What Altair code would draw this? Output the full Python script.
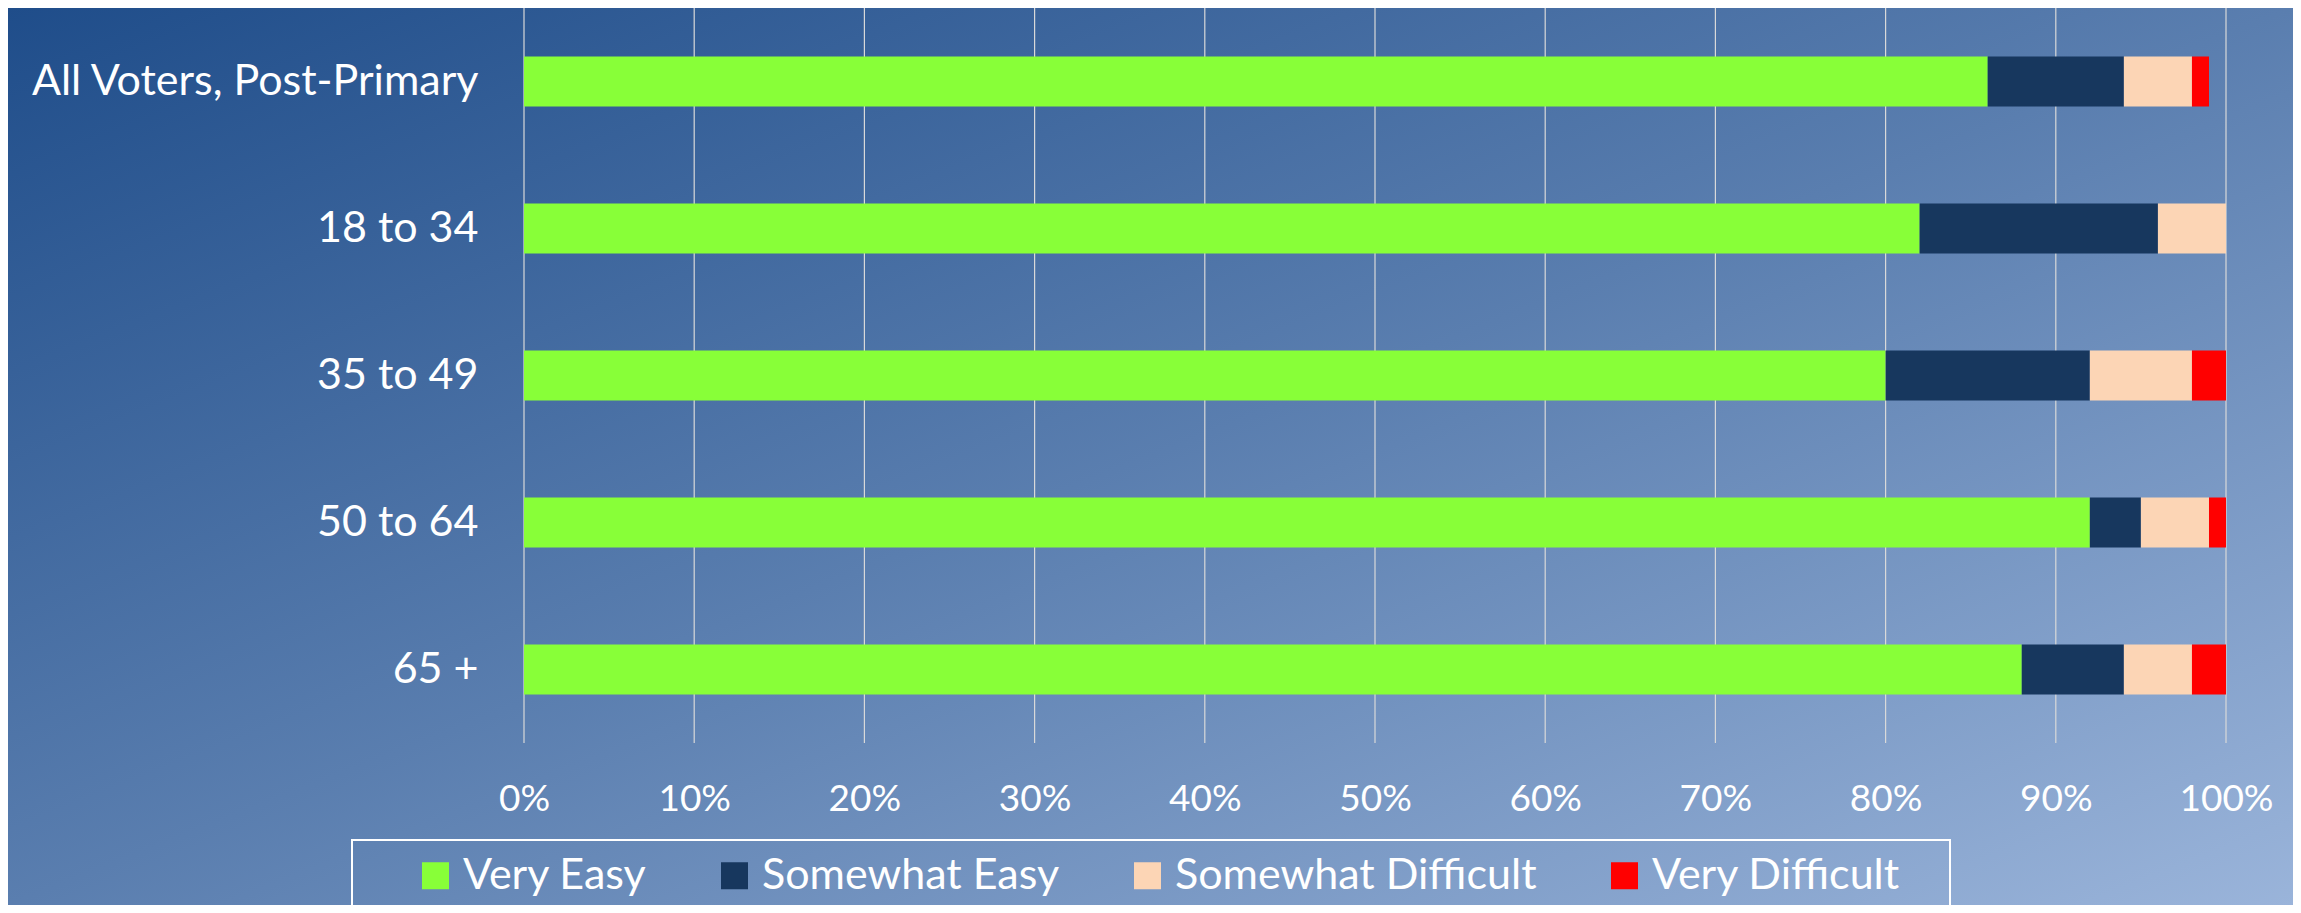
import altair as alt
import pandas as pd

groups = ["All Voters, Post-Primary", "18 to 34", "35 to 49", "50 to 64", "65 +"]
series = ["Very Easy", "Somewhat Easy", "Somewhat Difficult", "Very Difficult"]
very_easy = [86, 82, 80, 92, 88]
somewhat_easy = [8, 14, 12, 3, 6]
somewhat_difficult = [4, 4, 6, 4, 4]
very_difficult = [1, 0, 2, 1, 2]
colors = ["#88FF38", "#17375E", "#FCD5B5", "#FF0000"]
ticks = [0, 0.1, 0.2, 0.3, 0.4, 0.5, 0.6, 0.7, 0.8, 0.9, 1.0]

rows = []
for si, (name, vals) in enumerate(zip(series, [very_easy, somewhat_easy, somewhat_difficult, very_difficult])):
    for g, v in zip(groups, vals):
        rows.append({"group": g, "series": name, "order": si, "value": v / 100})
df = pd.DataFrame(rows)

W, H = 1702, 735
PL, PT, PR, PB = 516, 0, 67, 162
FONT = "Lato"

x_scale = alt.Scale(domain=[0, 1], nice=False)
y_scale = alt.Scale(domain=groups, paddingInner=0.66, paddingOuter=0.33)

x_axis = alt.Axis(values=ticks, format=".0%", grid=False, domain=False,
                  ticks=False, tickSize=0, labelPadding=38, labelFontSize=37,
                  labelFont=FONT, labelColor="white", title=None, zindex=1,
                  labelFlush=False)

dummy = pd.DataFrame({"a": [0]})

bg = alt.Chart(dummy).mark_rect(
    color=alt.Gradient(
        gradient="linear",
        stops=[
            alt.GradientStop(color="#1F4D8A", offset=0),
            alt.GradientStop(color="#5A7EAF", offset=0.5),
            alt.GradientStop(color="#9AB4DA", offset=1),
        ],
        x1=0, y1=0, x2=1, y2=1,
    )
).encode(
    x=alt.value(-PL), x2=alt.value(W + PR), y=alt.value(-PT), y2=alt.value(H + PB)
)

grid = alt.Chart(pd.DataFrame({"value": ticks})).mark_rule(
    color="#D9D9D9", strokeWidth=1.2
).encode(
    x=alt.X("value:Q", scale=x_scale, axis=x_axis),
    y=alt.value(0), y2=alt.value(H),
)

bars = alt.Chart(df).mark_bar(size=50).encode(
    x=alt.X("value:Q", stack="zero", scale=x_scale, axis=x_axis),
    y=alt.Y("group:N", scale=y_scale, sort=groups,
            axis=alt.Axis(domain=False, ticks=False, tickSize=0, labelPadding=46,
                          labelFontSize=43, labelFont=FONT, labelColor="white",
                          labelLimit=0, title=None, zindex=1, grid=False)),
    color=alt.Color("series:N", sort=series,
                    scale=alt.Scale(domain=series, range=colors),
                    legend=alt.Legend(orient="none", legendX=-110, legendY=846,
                                      direction="horizontal", title=None,
                                      symbolType="square", symbolSize=729,
                                      symbolStrokeWidth=0, symbolOpacity=1,
                                      labelFontSize=43, labelFont=FONT,
                                      labelColor="white", labelLimit=0,
                                      labelOffset=6, columnPadding=66,
                                      padding=0, zindex=1)),
    order=alt.Order("order:Q", sort="ascending"),
)

box = alt.Chart(dummy).mark_rect(
    fill=None, stroke="white", strokeWidth=2
).encode(
    x=alt.value(352 - 8 - PL), x2=alt.value(1950 - 8 - PL),
    y=alt.value(840 - 8), y2=alt.value(H + PB + 20),
)

chart = alt.layer(bg, grid, bars, box).properties(
    width=W, height=H,
    autosize=alt.AutoSizeParams(type="none"),
    padding={"left": PL, "top": PT, "right": PR, "bottom": PB},
).configure_view(stroke=None)

chart.save("out.html", embed_options={"renderer": "svg", "actions": False})
